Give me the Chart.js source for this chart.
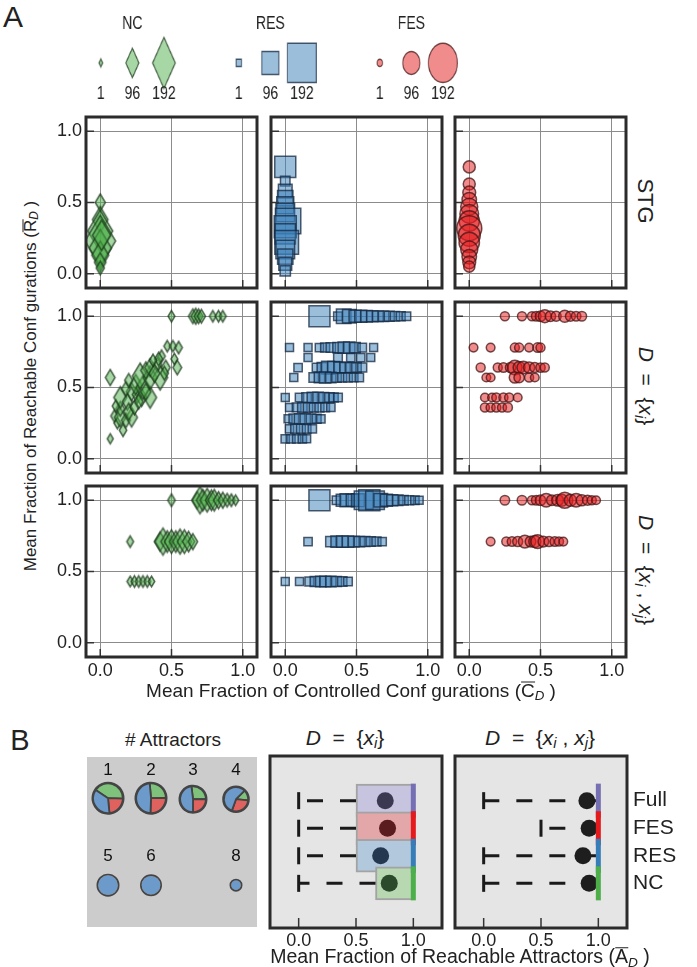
<!DOCTYPE html>
<html><head><meta charset="utf-8">
<script src="https://cdn.jsdelivr.net/npm/chart.js@4/dist/chart.umd.min.js"></script>
<style>
body{margin:0;background:#fff;width:697px;height:967px;position:relative;overflow:hidden;font-family:"Liberation Sans",Arial,sans-serif;color:#222}
canvas{position:absolute}
.t{position:absolute;white-space:nowrap;line-height:1}
.t sub{font-size:0.7em;vertical-align:-0.25em;line-height:0}
.ov{display:inline-block;border-top:1.5px solid #222;line-height:0.72;padding-top:1px}
</style></head><body>
<script>
// ---------------- DATA ----------------
const ticksA = [0, 0.5, 1.0];
const ticksB = [0, 0.5, 1.0];
const legendCounts = [1, 96, 192];

// [x, y, count]
const NC_STG = [[0,0.50,40],[0,0.38,80],[0,0.30,150],[0,0.23,192],[0,0.18,130],[0,0.13,90],[0,0.08,50],[0,0.04,25],[0.01,0.27,100]];
const RES_STG = [[0,0.75,84],[0,0.65,15],[0,0.58,40],[0,0.53,50],[0,0.48,60],[0,0.43,70],[0.02,0.37,110],[0,0.33,90],[0,0.28,80],[0.01,0.22,100],[0,0.17,70],[0,0.12,50],[0,0.07,35],[0,0.02,20]];
const FES_STG = [[0,0.75,30],[0,0.63,30],[0,0.57,35],[0,0.52,45],[0,0.47,60],[0,0.42,70],[0,0.37,80],[0,0.32,108],[0,0.27,90],[0,0.22,80],[0,0.17,60],[0,0.12,45],[0,0.08,35],[0,0.05,25]];

const NC_X1 = [[0.5,1.0,15],[0.65,1.0,30],[0.67,1.0,35],[0.69,1.0,30],[0.71,1.0,25],[0.79,1.0,15],[0.83,1.0,15],[0.86,1.0,15],
 [0.47,0.79,15],[0.51,0.79,15],[0.55,0.78,20],[0.52,0.70,15],[0.43,0.72,20],[0.54,0.64,30],[0.07,0.57,36],[0.07,0.14,9],
 [0.10,0.30,20],[0.12,0.25,15],[0.14,0.29,50],[0.18,0.27,30],[0.22,0.29,50],[0.14,0.35,30],[0.11,0.37,20],[0.14,0.43,60],
 [0.19,0.40,40],[0.22,0.47,45],[0.18,0.49,30],[0.26,0.45,40],[0.29,0.43,45],[0.35,0.43,60],[0.25,0.52,55],[0.30,0.50,70],
 [0.28,0.58,80],[0.35,0.57,70],[0.42,0.57,75],[0.32,0.62,40],[0.35,0.64,45],[0.40,0.66,30],[0.38,0.60,45],[0.46,0.64,30],
 [0.16,0.20,20],[0.20,0.33,40],[0.24,0.36,30],[0.27,0.40,30],[0.32,0.47,40],[0.45,0.60,25],[0.20,0.55,25],[0.41,0.70,25],[0.37,0.69,20]];
const RES_X1 = [[0.24,1.0,84],[0.37,1.0,10],[0.41,1.0,45],[0.45,1.0,40],[0.49,1.0,30],[0.53,1.0,30],[0.57,1.0,28],[0.61,1.0,25],[0.65,1.0,22],[0.69,1.0,20],[0.73,1.0,18],[0.77,1.0,15],[0.81,1.0,12],[0.85,1.0,10],
 [0.03,0.78,6],[0.16,0.78,6],[0.24,0.78,8],[0.28,0.78,12],[0.32,0.78,15],[0.37,0.78,20],[0.41,0.78,25],[0.45,0.78,25],[0.49,0.78,20],[0.54,0.78,10],[0.62,0.78,6],
 [0.16,0.71,6],[0.37,0.71,10],[0.46,0.71,8],[0.53,0.71,8],[0.60,0.71,6],
 [0.09,0.64,8],[0.22,0.64,10],[0.26,0.64,20],[0.30,0.64,35],[0.34,0.64,30],[0.38,0.64,25],[0.42,0.64,20],[0.46,0.64,18],[0.50,0.64,15],[0.54,0.64,12],
 [0.06,0.57,6],[0.20,0.57,15],[0.24,0.57,20],[0.28,0.57,25],[0.32,0.57,20],[0.36,0.57,15],[0.40,0.57,12],[0.44,0.57,12],[0.48,0.57,10],[0.52,0.57,8],
 [0.0,0.43,6],[0.10,0.43,8],[0.15,0.43,15],[0.19,0.43,20],[0.23,0.43,20],[0.27,0.43,18],[0.31,0.43,15],[0.34,0.43,12],[0.37,0.43,10],
 [0.03,0.36,6],[0.08,0.36,10],[0.12,0.36,15],[0.16,0.36,15],[0.20,0.36,12],[0.24,0.36,12],[0.28,0.36,10],[0.32,0.36,8],
 [0.02,0.28,6],[0.06,0.28,15],[0.10,0.28,20],[0.14,0.28,20],[0.18,0.28,15],[0.22,0.28,12],[0.25,0.28,8],
 [0.03,0.21,8],[0.07,0.21,12],[0.11,0.21,12],[0.15,0.21,10],[0.19,0.21,8],
 [0.0,0.14,8],[0.04,0.14,8],[0.08,0.14,8],[0.12,0.14,8],[0.15,0.14,6]];
const FES_X1 = [[0.25,1.0,12],[0.37,1.0,12],[0.44,1.0,12],[0.47,1.0,15],[0.50,1.0,20],[0.53,1.0,35],[0.57,1.0,20],[0.61,1.0,18],[0.67,1.0,30],[0.71,1.0,18],[0.75,1.0,15],[0.79,1.0,15],
 [0.03,0.78,10],[0.15,0.78,10],[0.32,0.78,12],[0.35,0.78,12],[0.42,0.78,10],[0.48,0.78,15],[0.50,0.78,12],
 [0.08,0.64,12],[0.20,0.64,12],[0.24,0.64,15],[0.29,0.64,20],[0.32,0.64,45],[0.35,0.64,30],[0.38,0.64,35],[0.42,0.64,25],[0.46,0.64,18],[0.50,0.64,14],[0.53,0.64,12],
 [0.12,0.57,10],[0.15,0.57,10],[0.32,0.57,25],[0.35,0.57,20],[0.42,0.57,12],[0.46,0.57,10],
 [0.11,0.43,10],[0.16,0.43,10],[0.19,0.43,12],[0.24,0.43,12],[0.28,0.43,12],[0.34,0.43,10],
 [0.11,0.36,12],[0.15,0.36,12],[0.19,0.36,12],[0.23,0.36,12],[0.27,0.36,14]];

const NC_X1X2 = [[0.50,1.0,20],[0.68,1.0,40],[0.70,1.0,85],[0.72,1.0,60],[0.75,1.0,70],[0.78,1.0,55],[0.80,1.0,60],[0.83,1.0,40],[0.86,1.0,35],[0.89,1.0,25],[0.92,1.0,20],[0.95,1.0,12],
 [0.21,0.71,15],[0.42,0.71,50],[0.44,0.71,85],[0.47,0.71,60],[0.50,0.71,70],[0.53,0.71,60],[0.56,0.71,75],[0.59,0.71,70],[0.62,0.71,55],[0.65,0.71,35],
 [0.21,0.43,12],[0.24,0.43,15],[0.27,0.43,15],[0.30,0.43,15],[0.33,0.43,15],[0.36,0.43,12]];
const RES_X1X2 = [[0.24,1.0,84],[0.36,1.0,10],[0.40,1.0,30],[0.43,1.0,35],[0.47,1.0,30],[0.51,1.0,35],[0.55,1.0,70],[0.59,1.0,85],[0.63,1.0,70],[0.67,1.0,40],[0.71,1.0,30],[0.75,1.0,25],[0.79,1.0,20],[0.83,1.0,15],[0.87,1.0,12],[0.91,1.0,8],[0.94,1.0,5],
 [0.16,0.71,8],[0.32,0.71,20],[0.36,0.71,25],[0.40,0.71,25],[0.44,0.71,25],[0.48,0.71,22],[0.52,0.71,20],[0.56,0.71,18],[0.60,0.71,15],[0.64,0.71,12],[0.68,0.71,8],
 [0.0,0.43,6],[0.10,0.43,6],[0.17,0.43,12],[0.21,0.43,18],[0.25,0.43,22],[0.28,0.43,22],[0.32,0.43,20],[0.36,0.43,18],[0.40,0.43,14],[0.44,0.43,10]];
const FES_X1X2 = [[0.25,1.0,15],[0.37,1.0,15],[0.44,1.0,12],[0.47,1.0,15],[0.50,1.0,20],[0.54,1.0,40],[0.58,1.0,22],[0.62,1.0,28],[0.65,1.0,30],[0.67,1.0,55],[0.71,1.0,30],[0.75,1.0,40],[0.79,1.0,25],[0.83,1.0,18],[0.86,1.0,12],[0.89,1.0,10],
 [0.15,0.71,10],[0.26,0.71,12],[0.30,0.71,15],[0.34,0.71,18],[0.39,0.71,35],[0.43,0.71,22],[0.46,0.71,30],[0.48,0.71,40],[0.52,0.71,22],[0.56,0.71,18],[0.60,0.71,15],[0.63,0.71,12],[0.66,0.71,10]];

// Panel B
const catsB = ['Full', 'FES', 'RES', 'NC'];
const b1Min = [0, 0, 0, 0], b1Q1 = [0.5, 0.5, 0.5, 0.67], b1Med = [1, 1, 1, 1], b1Q3 = [1, 1, 1, 1], b1Mean = [0.755, 0.775, 0.715, 0.79];
const b2Min = [0, 0.5, 0, 0], b2Q1 = [1, 1, 1, 1], b2Med = [1, 1, 1, 1], b2Q3 = [1, 1, 1, 1], b2Mean = [0.90, 0.92, 0.866, 0.92];

const attractorLabels = ['1', '2', '3', '4', '5', '6', '8'];
const pieNC  = [0.41, 0.26, 0.27, 0.14, 0, 0, 0];
const pieFES = [0.23, 0.26, 0.25, 0.29, 0, 0, 0];
const pieRES = [0.36, 0.48, 0.48, 0.57, 1, 1, 1];

// ---------------- LAYOUT / STYLE ----------------
const colL = [86, 271, 455], rowT = [117, 302, 486];
const pieLayout = [ // cx, cy, r, labelY, rotation
  [108, 798, 16, 770, -56], [151, 798, 16, 770, -5], [193, 799, 14, 770, -7], [236, 799, 13.3, 770, 45],
  [108, 885, 11, 856, 0], [151, 885, 10.5, 856, 0], [236, 885, 6, 856, 0]];

Chart.defaults.font.family = '"Liberation Sans", Arial, sans-serif';
Chart.defaults.color = '#222';
Chart.defaults.animation = false;
Chart.defaults.events = [];
Chart.defaults.plugins.legend.display = false;
Chart.defaults.plugins.tooltip.enabled = false;

const GROUPS = {
  NC:  {fill: 'rgba(77,175,74,0.5)',  stroke: 'rgba(25,55,25,0.75)',  shape: 'diamond'},
  RES: {fill: 'rgba(55,126,184,0.5)', stroke: 'rgba(20,40,65,0.75)',  shape: 'rect'},
  FES: {fill: 'rgba(228,26,28,0.5)',  stroke: 'rgba(70,20,20,0.75)',  shape: 'circle'}
};
const sqSide = n => 7 + 0.167 * n;
const dmH = n => 8 + 0.225 * n;

const dCache = {};
function diamond(h, fill, stroke, lw) {
  const key = h.toFixed(1) + fill;
  if (dCache[key]) return dCache[key];
  const w = 0.6 * h;
  const c = document.createElement('canvas');
  c.width = Math.ceil(w + lw * 2 + 1); c.height = Math.ceil(h + lw * 2 + 1);
  const g = c.getContext('2d');
  const cx = c.width / 2, cy = c.height / 2;
  g.beginPath(); g.moveTo(cx, cy - h / 2); g.lineTo(cx + w / 2, cy); g.lineTo(cx, cy + h / 2); g.lineTo(cx - w / 2, cy); g.closePath();
  g.fillStyle = fill; g.fill(); g.lineWidth = lw; g.strokeStyle = stroke; g.stroke();
  dCache[key] = c; return c;
}
function pointOpts(gname) {
  const G = GROUPS[gname];
  const cnt = ctx => (ctx.raw && ctx.raw.n) ? ctx.raw.n : 10;
  if (G.shape === 'diamond') return {
    pointStyle: ctx => diamond(dmH(cnt(ctx)), G.fill, G.stroke, 1.5),
    pointRadius: ctx => dmH(cnt(ctx)) / 2
  };
  if (G.shape === 'rect') return {
    pointStyle: 'rect', pointRadius: ctx => sqSide(cnt(ctx)) / Math.SQRT2,
    pointBackgroundColor: G.fill, pointBorderColor: G.stroke, pointBorderWidth: 1.5
  };
  return {
    pointStyle: 'circle', pointRadius: ctx => sqSide(cnt(ctx)) / 2,
    pointBackgroundColor: G.fill, pointBorderColor: G.stroke, pointBorderWidth: 1.5
  };
}
function fixW(w) { return s => { s.width = w; s.paddingTop = 0; s.paddingBottom = 0; s.paddingLeft = 0; s.paddingRight = 0; }; }
function fixH(h) { return s => { s.height = h; s.paddingTop = 0; s.paddingBottom = 0; s.paddingLeft = 0; s.paddingRight = 0; }; }

const framePlugin = {
  id: 'frame',
  beforeDraw(chart, args, o) {
    if (!o.bg) return;
    const a = chart.chartArea, c = chart.ctx;
    c.save(); c.fillStyle = o.bg; c.fillRect(a.left, a.top, a.right - a.left, a.bottom - a.top); c.restore();
  },
  afterDraw(chart, args, o) {
    const a = chart.chartArea, c = chart.ctx;
    c.save();
    c.strokeStyle = '#333'; c.lineWidth = 1.5;
    if (o.ticksLeft) chart.scales.y.ticks.forEach(t => {
      const p = chart.scales.y.getPixelForValue(t.value);
      c.beginPath(); c.moveTo(a.left, p); c.lineTo(a.left + o.len, p); c.stroke();
    });
    if (o.ticksBottom) chart.scales.x.ticks.forEach(t => {
      const p = chart.scales.x.getPixelForValue(t.value);
      c.beginPath(); c.moveTo(p, a.bottom); c.lineTo(p, a.bottom - o.len); c.stroke();
    });
    c.strokeStyle = '#2b2b2b'; c.lineWidth = 3;
    c.strokeRect(a.left, a.top, a.right - a.left, a.bottom - a.top);
    c.restore();
  }
};

function mk(left, top, w, h) {
  const c = document.createElement('canvas');
  c.width = w; c.height = h;
  c.style.left = left + 'px'; c.style.top = top + 'px';
  c.style.width = w + 'px'; c.style.height = h + 'px';
  document.body.appendChild(c);
  return c;
}
function txt(html, x, y, size, rot) {
  const d = document.createElement('div'); d.className = 't'; d.innerHTML = html;
  d.style.fontSize = size + 'px'; d.style.left = x + 'px'; d.style.top = y + 'px';
  d.style.transform = 'translate(-50%,-50%)' + (rot ? ' rotate(' + rot + 'deg)' : '');
  document.body.appendChild(d);
}

// ---------------- PANEL A ----------------
function scatterPanel(r, c, data, gname) {
  const BL = colL[c], BT = rowT[r], W = 171, H = 171, pad = 3;
  const yLab = c === 0 ? 36 : 0, xLab = r === 2 ? 26 : 0;
  const cv = mk(BL - yLab - pad, BT - pad, W + yLab + 2 * pad, H + xLab + 2 * pad);
  new Chart(cv, {
    type: 'scatter',
    data: {datasets: [Object.assign({data: data.map(([x, y, n]) => ({x, y, n})), clip: 0}, pointOpts(gname))]},
    options: {
      responsive: false, devicePixelRatio: 1,
      layout: {padding: pad, autoPadding: false},
      scales: {
        x: {type: 'linear', min: -0.1, max: 1.1,
          afterBuildTicks: s => { s.ticks = ticksA.map(v => ({value: v})); },
          afterFit: fixH(xLab),
          grid: {color: '#8c8c8c', lineWidth: 1, drawTicks: false}, border: {display: false},
          ticks: {display: xLab > 0, font: {size: 18}, padding: 3, maxRotation: 0, autoSkip: false, callback: v => Number(v).toFixed(1)}},
        y: {type: 'linear', min: -0.1, max: 1.1,
          afterBuildTicks: s => { s.ticks = ticksA.map(v => ({value: v})); },
          afterFit: fixW(yLab),
          grid: {color: '#8c8c8c', lineWidth: 1, drawTicks: false}, border: {display: false},
          ticks: {display: yLab > 0, font: {size: 18}, padding: 4, autoSkip: false, callback: v => Number(v).toFixed(1)}}
      },
      plugins: {frame: {ticksLeft: true, ticksBottom: true, len: 8}}
    },
    plugins: [framePlugin]
  });
}
const panelData = [[NC_STG, RES_STG, FES_STG], [NC_X1, RES_X1, FES_X1], [NC_X1X2, RES_X1X2, FES_X1X2]];
const groupNames = ['NC', 'RES', 'FES'];
for (let r = 0; r < 3; r++) for (let c = 0; c < 3; c++) scatterPanel(r, c, panelData[r][c], groupNames[c]);

// legend
function legendChart(gname, centerX) {
  const Wu = 128, Hc = 92, top = 12, sq = 0.74;
  const cv = mk(Math.round(centerX - Wu * sq / 2), top, Wu, Hc);
  cv.style.transform = 'scaleX(' + sq + ')'; cv.style.transformOrigin = '0 0';
  new Chart(cv, {
    type: 'scatter',
    data: {labels: legendCounts.map(String),
      datasets: [Object.assign({data: legendCounts.map(n => ({x: String(n), y: 0, n})), clip: false}, pointOpts(gname))]},
    options: {
      responsive: false, devicePixelRatio: 1, layout: {padding: 0, autoPadding: false},
      plugins: {title: {display: true, text: gname, font: {size: 19, weight: 'normal'}, color: '#222', padding: {top: 0, bottom: 20}}},
      scales: {
        x: {type: 'category', offset: true, grid: {display: false, drawTicks: false}, border: {display: false},
          ticks: {font: {size: 19}, padding: 11, color: '#222'}, afterFit: fixH(33)},
        y: {display: false, min: -1, max: 1}
      }
    }
  });
}
legendChart('NC', 132); legendChart('RES', 270); legendChart('FES', 411);

// ---------------- PANEL B ----------------
const medColors = ['#7570b3', '#e41a1c', '#377eb8', '#4daf4a'];
const boxFill = ['#c6c4de', '#e4a7a9', '#b1c8dd', '#b8d8b2'];
function boxPanel(left, mins, q1s, meds, q3s, means, meanColors, showCats) {
  const W = 172, H = 172, pad = 3, xLab = 26, yLab = showCats ? 62 : 0;
  const cv = mk(left - pad, 756 - pad, W + yLab + 2 * pad, H + xLab + 2 * pad);
  const idx = catsB.map((_, i) => i);
  const datasets = [
    {type: 'scatter', order: 1, data: idx.map(i => ({x: meds[i], y: i})), pointStyle: 'line', rotation: 90,
      pointRadius: 17, pointBorderWidth: 5, pointBorderColor: medColors},
    {type: 'scatter', order: 2, data: idx.map(i => ({x: means[i], y: i})), pointStyle: 'circle',
      pointRadius: 8.5, pointBackgroundColor: meanColors, pointBorderWidth: 0},
    {type: 'scatter', order: 3, data: idx.map(i => ({x: mins[i], y: i})), pointStyle: 'line', rotation: 90,
      pointRadius: 8.5, pointBorderWidth: 3, pointBorderColor: '#1a1a1a'}
  ];
  idx.forEach(i => datasets.push({type: 'line', order: 4, data: [{x: q1s[i], y: i}, {x: mins[i], y: i}],
    borderColor: '#1a1a1a', borderWidth: 3, borderDash: [16, 17], borderCapStyle: 'butt', pointRadius: 0, fill: false}));
  datasets.push({type: 'bar', order: 5, indexAxis: 'y', data: idx.map(i => ({y: i, x: [q1s[i], q3s[i]]})),
    backgroundColor: boxFill, borderColor: '#a3a3a3', borderWidth: 2, borderSkipped: false, barThickness: 33});
  new Chart(cv, {
    type: 'scatter',
    data: {datasets},
    options: {
      responsive: false, devicePixelRatio: 1,
      layout: {padding: pad, autoPadding: false},
      scales: {
        x: {type: 'linear', min: -0.25, max: 1.25,
          afterBuildTicks: s => { s.ticks = ticksB.map(v => ({value: v})); },
          afterFit: fixH(xLab),
          grid: {display: false, drawTicks: false}, border: {display: false},
          ticks: {font: {size: 18}, padding: 2, maxRotation: 0, autoSkip: false, callback: v => Number(v).toFixed(1)}},
        y: {type: 'linear', min: -0.84, max: 3.84, reverse: true, position: showCats ? 'right' : 'left',
          afterBuildTicks: s => { s.ticks = idx.map(v => ({value: v})); },
          afterFit: fixW(yLab),
          grid: {display: false, drawTicks: false}, border: {display: false},
          ticks: {display: showCats, font: {size: 21}, padding: 6, autoSkip: false, callback: v => catsB[v]}}
      },
      plugins: {frame: {bg: '#e5e5e5', ticksLeft: false, ticksBottom: true, len: 10}}
    },
    plugins: [framePlugin]
  });
}
boxPanel(270, b1Min, b1Q1, b1Med, b1Q3, b1Mean, ['#3b3852', '#5a1c1e', '#24394f', '#2b4a2c'], false);
boxPanel(455, b2Min, b2Q1, b2Med, b2Q3, b2Mean, '#1e1e1e', true);

// pies
const pieBg = document.createElement('div');
Object.assign(pieBg.style, {position: 'absolute', left: '87px', top: '757px', width: '170px', height: '170px', background: '#cccccc'});
document.body.appendChild(pieBg);
attractorLabels.forEach((lab, i) => {
  const [cx, cy, r, ly, rot] = pieLayout[i];
  const vals = [pieNC[i], pieFES[i], pieRES[i]];
  const multi = vals.filter(v => v > 0).length > 1;
  const titleH = 17 * 1.2;
  const top = Math.round(ly - titleH / 2);
  const ch = 2 * (cy - (top + titleH));
  const w = 2 * Math.ceil(r) + 8;
  const cv = mk(Math.round(cx - w / 2), top, w, Math.round(titleH + ch));
  const ringW = 1.6;
  new Chart(cv, {
    type: 'pie',
    data: {labels: ['NC', 'FES', 'RES'], datasets: [
      {data: [1], backgroundColor: ['#454545'], borderWidth: 0, weight: ringW},
      {data: vals, backgroundColor: ['#7ec27b', '#e0625f', '#6c9bcb'], borderColor: '#444',
        borderWidth: multi ? 1.8 : 0, weight: r - ringW}]},
    options: {responsive: false, devicePixelRatio: 1, radius: r + 0.5, rotation: rot, layout: {padding: 0},
      plugins: {title: {display: true, text: lab, font: {size: 17, weight: 'normal'}, color: '#111', padding: 0}}}
  });
});

// ---------------- TEXT ----------------
txt('A', 13, 17, 30);
txt('B', 20, 740, 29);
txt('Mean Fraction of Controlled Conf gurations (<span class="ov">C</span><sub><i>D</i></sub> )', 351, 690, 19);
txt('Mean Fraction of Reachable Conf gurations (<span class="ov">R</span><sub><i>D</i></sub> )', 30, 386, 17, -90);
txt('STG', 645, 201, 22, 90);
txt('<i>D</i> &nbsp;= &nbsp;{<i>x</i><sub><i>i</i></sub>}', 646, 386, 21, 90);
txt('<i>D</i> &nbsp;= &nbsp;{<i>x</i><sub><i>i</i></sub> , <i>x</i><sub><i>j</i></sub>}', 646, 570, 21, 90);
txt('# Attractors', 173, 739, 19);
txt('<i>D</i> &nbsp;= &nbsp;{<i>x</i><sub><i>i</i></sub>}', 345, 737, 21);
txt('<i>D</i> &nbsp;= &nbsp;{<i>x</i><sub><i>i</i></sub> , <i>x</i><sub><i>j</i></sub>}', 540, 737, 21);
txt('Mean Fraction of Reachable Attractors (<span class="ov">A</span><sub><i>D</i></sub> )', 460, 957, 19.5);
</script></body></html>
